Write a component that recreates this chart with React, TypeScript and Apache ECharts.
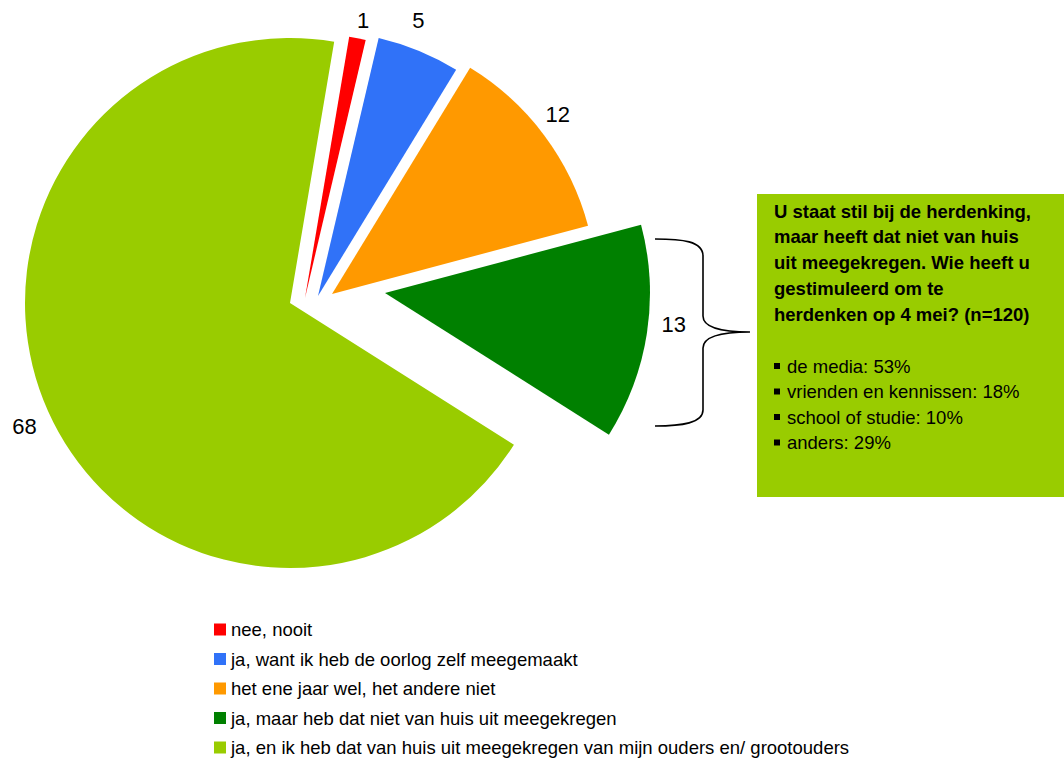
import React, { useEffect, useRef } from "react";
import * as echarts from "echarts";

// ---- data ----
const categories = [
  "nee, nooit",
  "ja, want ik heb de oorlog zelf meegemaakt",
  "het ene jaar wel, het andere niet",
  "ja, maar heb dat niet van huis uit meegekregen",
  "ja, en ik heb dat van huis uit meegekregen van mijn ouders en/ grootouders",
];
const values = [1, 5, 12, 13, 68];
const colors = ["#ff0000", "#3072f8", "#ff9900", "#008000", "#99cc00"];

const boxTitleLines = [
  "U staat stil bij de herdenking,",
  "maar heeft dat niet van huis",
  "uit meegekregen. Wie heeft u",
  "gestimuleerd om te",
  "herdenken op 4 mei? (n=120)",
];
const boxBullets = [
  "de media: 53%",
  "vrienden en kennissen: 18%",
  "school of studie: 10%",
  "anders: 29%",
];

// ---- layout (exploded slice centres, label nudges) ----
const sliceCenters: [number, number][] = [
  [305, 298],
  [318, 296],
  [332, 294],
  [385, 293],
  [290, 303],
];
const labelNudges: [number, number][] = [
  [0, 10],
  [-11, -4],
  [-9, -4],
  [-1, -13],
  [2, 4],
];
const R = 265;
const START = 80.4;
const FONT = "'Liberation Sans', Arial, sans-serif";
const TRANSPARENT = "rgba(0,0,0,0)";

const bracePath =
  "M655,239 C682,239 703,241 703,256 L703,316 C703,328 724,332 750,332 C724,332 703,336 703,348 L703,410 C703,423 682,426 655,426";

export default function App() {
  const ref = useRef<HTMLDivElement>(null);

  useEffect(() => {
    document.body.style.margin = "0";
    if (!ref.current) return;
    try {
      echarts.graphic.registerShape("brace", echarts.graphic.extendPath(bracePath, {}));
    } catch (e) {}
    const chart = echarts.init(ref.current, undefined, { renderer: "svg" });

    const series: any[] = [];
    categories.forEach((_, i) => {
      series.push({
        type: "pie",
        center: sliceCenters[i],
        radius: [0, R],
        startAngle: START,
        clockwise: true,
        silent: true,
        avoidLabelOverlap: false,
        label: { show: false },
        labelLine: { show: false },
        emphasis: { disabled: true },
        data: categories.map((name, j) => ({
          name,
          value: values[j],
          itemStyle: { color: j === i ? colors[j] : TRANSPARENT },
        })),
      });
      series.push({
        type: "pie",
        center: sliceCenters[i],
        radius: [R + 5, R + 45],
        startAngle: START,
        clockwise: true,
        silent: true,
        avoidLabelOverlap: false,
        labelLine: { show: false },
        emphasis: { disabled: true },
        data: categories.map((name, j) => ({
          name,
          value: values[j],
          itemStyle: { color: TRANSPARENT },
          label: {
            show: j === i,
            position: "inside",
            formatter: "{c}",
            fontSize: 22,
            fontFamily: FONT,
            color: "#000",
            offset: labelNudges[j],
          },
        })),
      });
    });

    const graphics: any[] = [
      {
        type: "brace",
        x: 0,
        y: 0,
        style: { fill: "none", stroke: "#000", lineWidth: 1.6 },
      },
      {
        type: "rect",
        shape: { x: 757, y: 194, width: 307, height: 303 },
        style: { fill: "#99cc00" },
      },
    ];
    boxTitleLines.forEach((t, k) => {
      graphics.push({
        type: "text",
        x: 774,
        y: 211 + k * 25.8,
        style: {
          text: t,
          fontSize: 18.5,
          fontWeight: "bold",
          fontFamily: FONT,
          fill: "#000",
          verticalAlign: "middle",
        },
      });
    });
    boxBullets.forEach((t, k) => {
      const y = 366 + k * 25.5;
      graphics.push({
        type: "rect",
        shape: { x: 774, y: y - 3, width: 6, height: 6 },
        style: { fill: "#000" },
      });
      graphics.push({
        type: "text",
        x: 787,
        y,
        style: {
          text: t,
          fontSize: 18.5,
          fontFamily: FONT,
          fill: "#000",
          verticalAlign: "middle",
        },
      });
    });

    chart.setOption({
      animation: false,
      backgroundColor: "#fff",
      legend: {
        orient: "vertical",
        left: 214,
        top: 620,
        padding: 0,
        itemWidth: 12,
        itemHeight: 12,
        itemGap: 10.5,
        icon: "rect",
        selectedMode: false,
        textStyle: { fontSize: 18.5, lineHeight: 18.5, fontFamily: FONT, color: "#000" },
        data: categories.map((name, j) => ({ name, itemStyle: { color: colors[j] } })),
      },
      series,
      graphic: graphics,
    });

    return () => chart.dispose();
  }, []);

  return <div ref={ref} style={{ width: 1064, height: 758 }} />;
}
